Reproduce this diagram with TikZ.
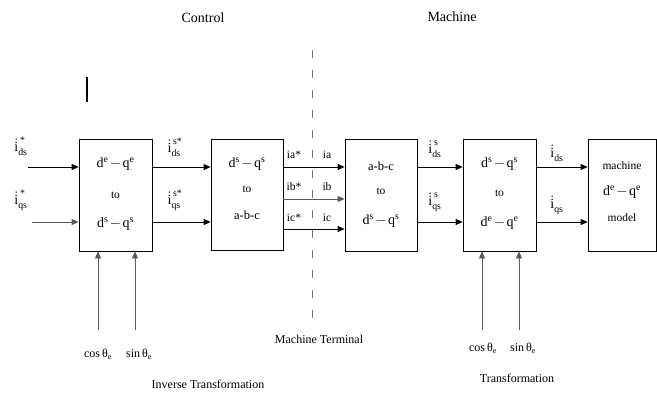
\documentclass[tikz,border=0pt]{standalone}
\usepackage{fontspec}
\usepackage{amsmath}
\setmainfont{Liberation Serif}
\usetikzlibrary{arrows.meta}

% current symbols: dotted i with subscript / superscript
\newcommand{\cur}[2]{$\dot{\text{i}}_{\text{#1}}^{\,\text{#2}}$}
\newcommand{\frm}[2]{d\textsuperscript{#1}\hspace{1.5pt}$-$\hspace{1.5pt}q\textsuperscript{#2}}

\begin{document}
\begin{tikzpicture}[x=1pt,y=-1pt,
  blk/.style={draw,line width=0.8pt,minimum width=73pt,minimum height=112pt,inner sep=0pt},
  arr/.style={-{Triangle[length=7pt,width=6pt]},line width=0.8pt},
  garr/.style={arr,black!65},
  lbl/.style={font=\fontsize{12}{12}\selectfont,inner sep=0pt},
  cl/.style={font=\fontsize{14}{14}\selectfont,inner sep=0pt},
  btxt/.style={font=\fontsize{14}{14}\selectfont,inner sep=0pt},
  small/.style={font=\fontsize{11.5}{11.5}\selectfont,inner sep=0pt}]
\useasboundingbox (0,0) rectangle (657,392);

% headings and separator
\node[btxt] (ctl) at (203,18) {Control};
\node[btxt] (mch) at (452,17) {Machine};
\node[lbl] (term) at (319,339) {Machine Terminal};
\coordinate (dtop) at (312,50);
\coordinate (dbot) at (312,326);
\draw[black!55,line width=1pt,dash pattern=on 8pt off 12pt] (dtop) -- (dbot);
\coordinate (m1) at (87,77);
\coordinate (m2) at (87,102);
\draw[line width=1.8pt] (m1) -- (m2);

% blocks
\node[blk] (b1) at (115.5,195) {};
\node[blk,minimum width=72pt,minimum height=111pt] (b2) at (247,194.5) {};
\node[blk,minimum width=72pt] (b3) at (381,195) {};
\node[blk] (b4) at (499.5,195) {};
\node[blk,minimum width=68pt] (b5) at (622,195) {};

% block texts
\node[btxt] (b1a) at (115.5,164) {\frm{e}{e}};
\node[small] (b1b) at (115.5,195) {to};
\node[btxt] (b1c) at (115.5,224) {\frm{s}{s}};
\node[btxt] (b2a) at (247,164) {\frm{s}{s}};
\node[small] (b2b) at (247,189) {to};
\node[small,font=\fontsize{12.5}{12.5}\selectfont] (b2c) at (247,215) {a-b-c};
\node[small,font=\fontsize{12.5}{12.5}\selectfont] (b3a) at (381,166) {a-b-c};
\node[small] (b3b) at (381,191) {to};
\node[btxt] (b3c) at (381,221) {\frm{s}{s}};
\node[btxt] (b4a) at (499.5,164) {\frm{s}{s}};
\node[small] (b4b) at (499.5,193) {to};
\node[btxt] (b4c) at (499.5,223) {\frm{e}{e}};
\node[small] (b5a) at (622,166) {machine};
\node[btxt] (b5b) at (622,192) {\frm{e}{e}};
\node[small] (b5c) at (622,218) {model};

% signal levels
\coordinate (y1) at (0,167);
\coordinate (y2) at (0,222);
\coordinate (ya) at (0,167);
\coordinate (yb) at (0,199);
\coordinate (yc) at (0,229);
\coordinate (in1) at (28,167);
\coordinate (in2) at (32,222);

% connectors
\draw[arr] (in1) -- (b1.west |- y1);
\draw[garr] (in2) -- (b1.west |- y2);
\draw[arr] (b1.east |- y1) -- (b2.west |- y1);
\draw[arr] (b1.east |- y2) -- (b2.west |- y2);
\draw[arr] (b2.east |- ya) -- (b3.west |- ya);
\draw[garr] (b2.east |- yb) -- (b3.west |- yb);
\draw[arr] (b2.east |- yc) -- (b3.west |- yc);
\draw[arr] (b3.east |- y1) -- (b4.west |- y1);
\draw[arr] (b3.east |- y2) -- (b4.west |- y2);
\draw[arr] (b4.east |- y1) -- (b5.west |- y1);
\draw[arr] (b4.east |- y2) -- (b5.west |- y2);

% angle inputs
\coordinate (c1) at (98,330);
\coordinate (s1) at (135,330);
\coordinate (c2) at (482,330);
\coordinate (s2) at (519,330);
\draw[garr] (c1) -- (b1.south -| c1);
\draw[garr] (s1) -- (b1.south -| s1);
\draw[garr] (c2) -- (b4.south -| c2);
\draw[garr] (s2) -- (b4.south -| s2);

% signal labels
\node[cl] (l1) at (21,146) {\cur{ds}{*}};
\node[cl] (l2) at (21,200) {\cur{qs}{*}};
\node[cl] (l3) at (175,147) {\cur{ds}{s*}};
\node[cl] (l4) at (175,200) {\cur{qs}{s*}};
\node[small] (la1) at (294,155) {ia*};
\node[small] (lb1) at (294,187) {ib*};
\node[small] (lc1) at (294,218) {ic*};
\node[small] (la2) at (327,155) {ia};
\node[small] (lb2) at (327,187) {ib};
\node[small] (lc2) at (327,218) {ic};
\node[cl] (l5) at (435,149) {\cur{ds}{s}};
\node[cl] (l6) at (435,202) {\cur{qs}{s}};
\node[cl] (l7) at (557,153) {\cur{ds}{}};
\node[cl] (l8) at (557,205) {\cur{qs}{}};

% angle labels
\node[lbl] (cs1) at (98,354) {cos\,θ\textsubscript{e}};
\node[lbl] (sn1) at (139,354) {sin\,θ\textsubscript{e}};
\node[lbl] (cs2) at (483,348) {cos\,θ\textsubscript{e}};
\node[lbl] (sn2) at (523,348) {sin\,θ\textsubscript{e}};
\node[lbl] (it) at (208,384) {Inverse Transformation};
\node[lbl] (tr) at (517,378) {Transformation};
\end{tikzpicture}
\end{document}
